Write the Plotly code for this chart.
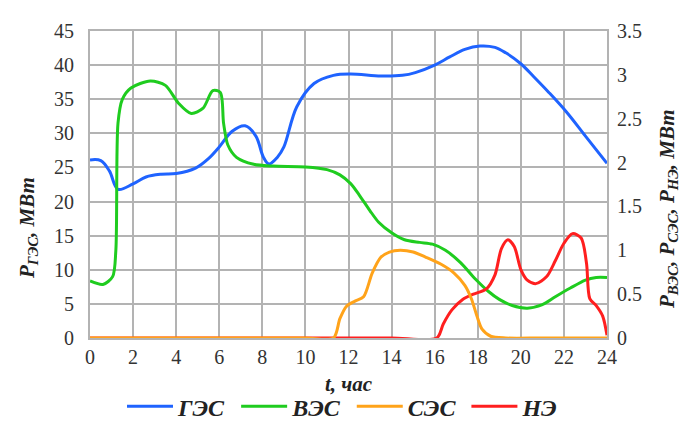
import plotly.graph_objects as go

# Hours and power curves
t_ges = [0, 0.5, 0.9, 1.3, 2.0, 2.6, 3.3, 4.0, 4.9, 5.5, 6.0, 6.6, 7.2, 7.7, 8.05, 8.3, 8.7, 9.0, 9.6, 10.4, 11.3, 12.1, 13.5, 14.5, 15.1, 16.0, 16.7, 17.4, 18.1, 18.8, 19.3, 20.0, 20.6, 21.3, 22.1, 23.0, 24.0]
p_ges = [26.1, 26.0, 24.5, 21.8, 22.6, 23.6, 24.0, 24.1, 24.9, 26.3, 28.0, 30.3, 31.1, 29.6, 26.5, 25.5, 26.5, 28.0, 33.9, 37.3, 38.5, 38.7, 38.4, 38.5, 38.9, 40.0, 41.2, 42.3, 42.8, 42.6, 41.8, 40.2, 38.3, 36.0, 33.2, 29.6, 25.6]

t_ves = [0, 0.6, 1.05, 1.2, 1.3, 1.5, 1.9, 2.8, 3.5, 4.1, 4.7, 5.25, 5.7, 6.05, 6.2, 6.4, 6.8, 7.6, 8.5, 10.0, 11.0, 11.6, 12.1, 12.5, 13.0, 13.4, 14.0, 14.6, 15.3, 15.9, 16.5, 17.2, 17.9, 18.5, 19.0, 19.6, 20.3, 21.0, 21.6, 22.3, 23.0, 23.5, 24.0]
p_ves = [0.65, 0.61, 0.70, 1.0, 2.45, 2.72, 2.85, 2.93, 2.88, 2.68, 2.56, 2.62, 2.82, 2.80, 2.45, 2.20, 2.06, 1.98, 1.96, 1.95, 1.92, 1.86, 1.76, 1.63, 1.45, 1.32, 1.20, 1.12, 1.09, 1.07, 1.00, 0.86, 0.67, 0.53, 0.44, 0.37, 0.34, 0.38, 0.47, 0.57, 0.66, 0.69, 0.69]

t_ses = [0, 5, 10, 11.3, 11.6, 11.9, 12.3, 12.7, 13.1, 13.5, 13.9, 14.4, 15.0, 15.6, 16.3, 16.9, 17.4, 17.7, 17.95, 18.2, 18.6, 19.3, 21, 24.0]
p_ses = [0, 0, 0, 0, 0.22, 0.36, 0.42, 0.47, 0.74, 0.92, 0.98, 1.0, 0.98, 0.92, 0.84, 0.74, 0.60, 0.45, 0.26, 0.10, 0.02, 0, 0, 0]

t_ne = [0, 5, 10, 14, 16.1, 16.4, 16.8, 17.3, 17.8, 18.4, 18.8, 19.1, 19.4, 19.7, 20.0, 20.3, 20.7, 21.2, 21.6, 22.0, 22.4, 22.8, 23.05, 23.2, 23.5, 23.8, 24.0]
p_ne = [0, 0, 0, 0, 0, 0.16, 0.32, 0.44, 0.50, 0.56, 0.72, 1.02, 1.12, 1.04, 0.78, 0.66, 0.62, 0.70, 0.88, 1.08, 1.19, 1.14, 0.85, 0.45, 0.37, 0.25, 0.03]

x_ticks = list(range(0, 25, 2))

FONT = "Liberation Serif"
GRID = "#b3b3b3"
TITLE_FONT = dict(family=FONT, size=21, color="#222222")

fig = go.Figure()
fig.add_trace(go.Scatter(x=t_ges, y=p_ges, name="<b><i>ГЭС</i></b>&nbsp;", mode="lines", legendrank=1,
                         line=dict(color="#1f63ff", width=3, shape="spline", smoothing=1.0)))
fig.add_trace(go.Scatter(x=t_ves, y=p_ves, name="<b><i>ВЭС</i></b>&nbsp;", mode="lines", yaxis="y2", legendrank=2,
                         line=dict(color="#1fcc1f", width=3, shape="spline", smoothing=0.8)))
# red drawn beneath orange so the orange zero run stays on top
fig.add_trace(go.Scatter(x=t_ne, y=p_ne, name="<b><i>НЭ</i></b>", mode="lines", yaxis="y2", legendrank=4,
                         line=dict(color="#ff1f1f", width=3, shape="spline", smoothing=0.8)))
fig.add_trace(go.Scatter(x=t_ses, y=p_ses, name="<b><i>СЭС</i></b>&nbsp;", mode="lines", yaxis="y2", legendrank=3,
                         line=dict(color="#ffa31a", width=3, shape="spline", smoothing=0.8)))

fig.update_layout(
    width=685, height=435,
    margin=dict(l=90, r=78, t=31, b=97, autoexpand=False),
    paper_bgcolor="white", plot_bgcolor="white",
    font=dict(family=FONT, size=20, color="#333333"),
    xaxis=dict(range=[0, 24], tickvals=x_ticks, showgrid=True, gridcolor=GRID, gridwidth=2,
               showline=True, linecolor=GRID, linewidth=2, mirror=True, zeroline=False,
               ticks="", ticklen=0),
    yaxis=dict(range=[0, 45], dtick=5, showgrid=True, gridcolor=GRID, gridwidth=2,
               showline=True, linecolor=GRID, linewidth=2, mirror=True, zeroline=False,
               ticklabelstandoff=10),
    yaxis2=dict(range=[0, 3.5], dtick=0.5, overlaying="y", side="right", showgrid=False,
                zeroline=False, showline=False, ticklabelstandoff=9),
    legend=dict(orientation="h", x=0.5, xanchor="center", xref="container",
                y=0.065, yanchor="middle", yref="container", traceorder="normal",
                font=dict(size=24, color="#222222"), itemwidth=46, tracegroupgap=0),
    showlegend=True,
    annotations=[
        dict(text="<b><i>t, час</i></b>", xref="paper", yref="paper", x=0.5, y=-0.151,
             xanchor="center", yanchor="middle", showarrow=False, font=TITLE_FONT),
        dict(text="<b><i>P<sub>ГЭС</sub>, МВт</i></b>", xref="paper", yref="paper", x=-0.119, y=0.36,
             xanchor="center", yanchor="middle", textangle=-90, showarrow=False, font=TITLE_FONT),
        dict(text="<b><i>P<sub>ВЭС</sub>, P<sub>СЭС</sub>, P<sub>НЭ</sub>, МВт</i></b>",
             xref="paper", yref="paper", x=1.118, y=0.42,
             xanchor="center", yanchor="middle", textangle=-90, showarrow=False, font=TITLE_FONT),
    ],
)

fig.write_html("out.html")
